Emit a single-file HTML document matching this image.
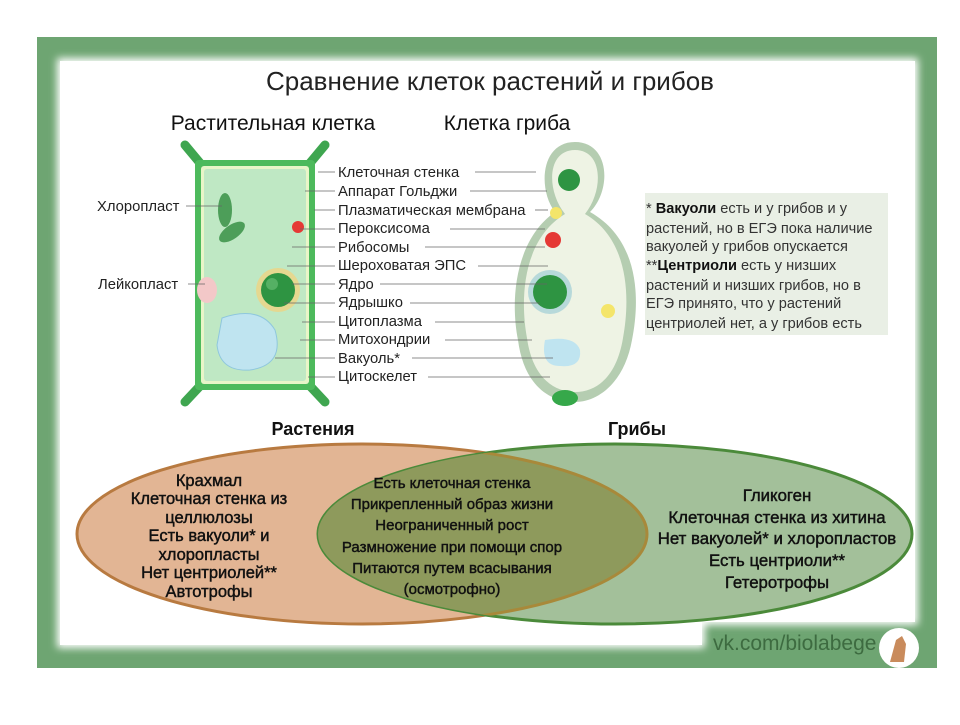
<!DOCTYPE html>
<html><head><meta charset="utf-8"><style>
body{margin:0;width:960px;height:720px;background:#fff;overflow:hidden;font-family:"Liberation Sans","DejaVu Sans",sans-serif;}
svg text{font-family:"Liberation Sans","DejaVu Sans",sans-serif;}
</style></head><body>
<svg width="960" height="720" viewBox="0 0 960 720" xmlns="http://www.w3.org/2000/svg">
<defs>
<filter id="bl"><feGaussianBlur stdDeviation="4"/></filter>
<clipPath id="fc"><ellipse cx="615" cy="534" rx="297" ry="90"/></clipPath>
</defs>
<rect x="37" y="37" width="900" height="631" fill="#6ea572"/>
<path d="M57 58 H918 V625 H705 V648 H57 Z" fill="#fff" filter="url(#bl)"/>
<path d="M60 61 H915 V622 H702 V645 H60 Z" fill="#fff"/>
<text x="490" y="90" font-size="26" text-anchor="middle" fill="#222">Сравнение клеток растений и грибов</text>
<text x="273" y="130" font-size="21" text-anchor="middle" fill="#111">Растительная клетка</text>
<text x="507" y="130" font-size="21" text-anchor="middle" fill="#111">Клетка гриба</text>
<g stroke="#3fa650" stroke-width="9" stroke-linecap="round">
<line x1="185" y1="145" x2="200" y2="163"/><line x1="325" y1="145" x2="310" y2="163"/>
<line x1="185" y1="402" x2="200" y2="386"/><line x1="325" y1="402" x2="310" y2="386"/>
</g>
<rect x="195" y="160" width="120" height="230" rx="4" fill="#4dba5c"/>
<rect x="201" y="166" width="108" height="218" rx="3" fill="#e8f5c8"/>
<rect x="204" y="169" width="102" height="212" rx="3" fill="#bfe8c4"/>
<ellipse cx="225" cy="210" rx="7" ry="17" fill="#4d9e59"/>
<ellipse cx="232" cy="232" rx="15" ry="7" fill="#4d9e59" transform="rotate(-35 232 232)"/>
<circle cx="298" cy="227" r="6" fill="#e53935"/>
<circle cx="278" cy="290" r="22" fill="#e5d890"/>
<circle cx="278" cy="290" r="17" fill="#2e9442"/>
<circle cx="272" cy="284" r="6" fill="#6fc37b" opacity=".6"/>
<path d="M222 318 Q260 305 275 330 Q285 365 250 370 Q220 372 217 345 Z" fill="#bfe4f0" stroke="#8fc7dd"/>
<ellipse cx="207" cy="290" rx="10" ry="13" fill="#f3c8c8"/>
<path d="M575 142 C610 142 612 190 590 212 C640 240 640 300 632 340 C625 380 600 402 575 402 C545 402 523 380 518 340 C510 300 515 240 555 212 C538 190 540 142 575 142 Z" fill="#b5cdb1"/>
<path d="M575 150 C603 150 604 190 585 214 C630 240 630 300 623 338 C617 375 598 392 575 392 C552 392 532 375 527 338 C520 300 522 240 565 214 C546 190 547 150 575 150 Z" fill="#eef3e4"/>
<circle cx="569" cy="180" r="11" fill="#2e9442"/>
<circle cx="556" cy="213" r="6" fill="#f4e56a"/>
<circle cx="553" cy="240" r="8" fill="#e53935"/>
<circle cx="550" cy="292" r="22" fill="#9fcdd6" opacity=".7"/>
<circle cx="550" cy="292" r="17" fill="#2e9442"/>
<circle cx="608" cy="311" r="7" fill="#f4e56a"/>
<path d="M545 340 Q575 335 580 350 Q582 368 560 366 Q540 366 545 340Z" fill="#bfe4f0"/>
<ellipse cx="565" cy="398" rx="13" ry="8" fill="#36a84a"/>
<g font-size="14.8" fill="#222">
<text x="338" y="177">Клеточная стенка</text>
<text x="338" y="196">Аппарат Гольджи</text>
<text x="338" y="215">Плазматическая мембрана</text>
<text x="338" y="233">Пероксисома</text>
<text x="338" y="252">Рибосомы</text>
<text x="338" y="270">Шероховатая ЭПС</text>
<text x="338" y="289">Ядро</text>
<text x="338" y="307">Ядрышко</text>
<text x="338" y="326">Цитоплазма</text>
<text x="338" y="344">Митохондрии</text>
<text x="338" y="363">Вакуоль*</text>
<text x="338" y="381">Цитоскелет</text>
<text x="97" y="211">Хлоропласт</text>
<text x="98" y="289">Лейкопласт</text>
</g>
<g stroke="#666" stroke-width="0.8">
<line x1="318" y1="172" x2="335" y2="172"/><line x1="475" y1="172" x2="536" y2="172"/>
<line x1="305" y1="191" x2="335" y2="191"/><line x1="470" y1="191" x2="547" y2="191"/>
<line x1="314" y1="210" x2="335" y2="210"/><line x1="535" y1="210" x2="548" y2="210"/>
<line x1="300" y1="229" x2="335" y2="229"/><line x1="450" y1="229" x2="545" y2="229"/>
<line x1="292" y1="247" x2="335" y2="247"/><line x1="425" y1="247" x2="545" y2="247"/>
<line x1="287" y1="266" x2="335" y2="266"/><line x1="478" y1="266" x2="548" y2="266"/>
<line x1="292" y1="284" x2="335" y2="284"/><line x1="380" y1="284" x2="547" y2="284"/>
<line x1="284" y1="303" x2="335" y2="303"/><line x1="410" y1="303" x2="540" y2="303"/>
<line x1="302" y1="322" x2="335" y2="322"/><line x1="435" y1="322" x2="524" y2="322"/>
<line x1="300" y1="340" x2="335" y2="340"/><line x1="445" y1="340" x2="532" y2="340"/>
<line x1="275" y1="358" x2="335" y2="358"/><line x1="412" y1="358" x2="553" y2="358"/>
<line x1="308" y1="377" x2="335" y2="377"/><line x1="428" y1="377" x2="550" y2="377"/>
<line x1="186" y1="206" x2="222" y2="206"/><line x1="188" y1="284" x2="205" y2="284"/>
</g>
<rect x="645" y="193" width="243" height="142" fill="#e9efe5"/>
<g font-size="14.6" fill="#333">
<text x="646" y="213">* <tspan font-weight="bold" fill="#111">Вакуоли</tspan> есть и у грибов и у</text>
<text x="646" y="233">растений, но в ЕГЭ пока наличие</text>
<text x="646" y="251">вакуолей у грибов опускается</text>
<text x="646" y="270">**<tspan font-weight="bold" fill="#111">Центриоли</tspan> есть у низших</text>
<text x="646" y="290">растений и низших грибов, но в</text>
<text x="646" y="308">ЕГЭ принято, что у растений</text>
<text x="646" y="328">центриолей нет, а у грибов есть</text>
</g>
<text x="313" y="435" font-size="18" font-weight="bold" text-anchor="middle" fill="#111">Растения</text>
<text x="637" y="435" font-size="18" font-weight="bold" text-anchor="middle" fill="#111">Грибы</text>
<ellipse cx="362" cy="534" rx="285" ry="90" fill="#e2b594" stroke="#b87a40" stroke-width="3"/>
<ellipse cx="615" cy="534" rx="297" ry="90" fill="#a3c09a" stroke="#4b8a3a" stroke-width="3"/>
<ellipse cx="362" cy="534" rx="285" ry="90" fill="#8e9a5c" stroke="#a8893a" stroke-width="3" clip-path="url(#fc)"/>
<g fill="#111" text-anchor="middle" stroke="#111" stroke-width="0.45">
<g font-size="16.5">
<text x="209" y="486">Крахмал</text>
<text x="209" y="504">Клеточная стенка из</text>
<text x="209" y="523">целлюлозы</text>
<text x="209" y="541">Есть вакуоли* и</text>
<text x="209" y="560">хлоропласты</text>
<text x="209" y="578">Нет центриолей**</text>
<text x="209" y="597">Автотрофы</text>
</g>
<g font-size="15">
<text x="452" y="488">Есть клеточная стенка</text>
<text x="452" y="509">Прикрепленный образ жизни</text>
<text x="452" y="530">Неограниченный рост</text>
<text x="452" y="552">Размножение при помощи спор</text>
<text x="452" y="573">Питаются путем всасывания</text>
<text x="452" y="594">(осмотрофно)</text>
</g>
<g font-size="16.8">
<text x="777" y="501">Гликоген</text>
<text x="777" y="523">Клеточная стенка из хитина</text>
<text x="777" y="544">Нет вакуолей* и хлоропластов</text>
<text x="777" y="566">Есть центриоли**</text>
<text x="777" y="588">Гетеротрофы</text>
</g>
</g>
<text x="713" y="650" font-size="21" fill="#3d6b40">vk.com/biolabege</text>
<circle cx="899" cy="648" r="20" fill="#fff"/>
<path d="M890 662 L896 640 L902 636 L906 644 L904 662 Z" fill="#c98b5c"/>
</svg>
</body></html>
